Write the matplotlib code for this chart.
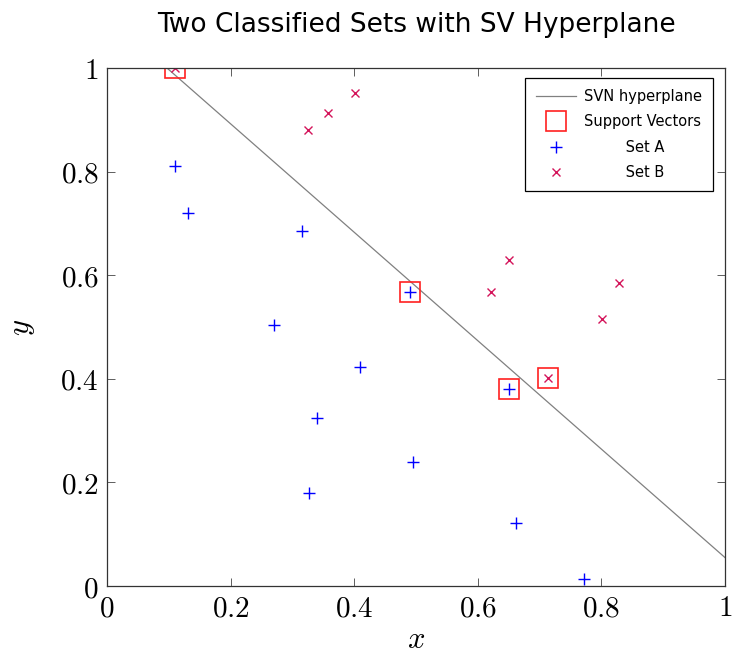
import numpy as np
import matplotlib.pyplot as plt

plt.rcParams['mathtext.fontset'] = 'cm'

# set A (+) and set B (x)
xa = [0.110, 0.131, 0.316, 0.270, 0.490, 0.409, 0.340, 0.327, 0.495, 0.650, 0.662, 0.772]
ya = [0.811, 0.720, 0.685, 0.504, 0.568, 0.423, 0.324, 0.180, 0.239, 0.380, 0.122, 0.014]
xb = [0.110, 0.325, 0.358, 0.401, 0.650, 0.621, 0.714, 0.801, 0.828]
yb = [1.000, 0.880, 0.913, 0.952, 0.629, 0.568, 0.402, 0.515, 0.585]

# support vectors
xsv = [0.110, 0.490, 0.650, 0.714]
ysv = [1.000, 0.568, 0.380, 0.402]

# separating hyperplane
xh = [0.097, 1.0]
yh = [1.0, 0.055]

ticks = [0, 0.2, 0.4, 0.6, 0.8, 1]
ticklabels = ['$0$', '$0.2$', '$0.4$', '$0.6$', '$0.8$', '$1$']
labels = ['SVN hyperplane', 'Support Vectors', 'Set A', 'Set B']
legsize = 10.5

fig = plt.figure(figsize=(7.34, 6.55), dpi=100)
ax = fig.add_axes([0.1458, 0.1053, 0.8419, 0.7909])

# pad legend labels with spaces so they sit centred in their column
r = fig.canvas.get_renderer()
def width(s):
    t = fig.text(0, 0, s, fontsize=legsize)
    w = t.get_window_extent(r).width
    t.remove()
    return w
wmax = max(width(s) for s in labels)
wsp = width('a a') - width('aa')
labels = [' ' * int(round((wmax - width(s)) / 2 / wsp)) + s for s in labels]

ax.plot(xh, yh, color='#808080', lw=0.9, label=labels[0])
ax.plot(xsv, ysv, 's', ms=15, mfc='none', mec='#ff2020', mew=1.2,
        ls='none', label=labels[1])
ax.plot(xa, ya, '+', ms=8.5, mew=1.0, color='#0000ff', ls='none', label=labels[2])
ax.plot(xb, yb, 'x', ms=6, mew=1.0, color='#d4145a', ls='none', label=labels[3])

ax.set_xlim(0, 1)
ax.set_ylim(0, 1)
ax.set_xticks(ticks)
ax.set_xticklabels(ticklabels)
ax.set_yticks(ticks)
ax.set_yticklabels(ticklabels)
ax.tick_params(direction='in', top=True, right=True, length=6, width=0.6,
               labelsize=21, color='#444444', pad=6)
for s in ax.spines.values():
    s.set_linewidth(0.9)
    s.set_color('#333333')

ax.set_xlabel('$x$', fontsize=22, labelpad=2)
ax.set_ylabel('$y$', fontsize=22, labelpad=17)
ax.set_title('Two Classified Sets with SV Hyperplane', fontsize=19, pad=26)

leg = ax.legend(loc='upper right', bbox_to_anchor=(0.981, 0.981), fontsize=legsize,
                fancybox=False, edgecolor='black', framealpha=1, borderaxespad=0,
                handlelength=2.7, borderpad=0.75, labelspacing=0.72, handletextpad=0.6)
leg.get_frame().set_linewidth(0.9)

fig.savefig('out.png', dpi=100)
